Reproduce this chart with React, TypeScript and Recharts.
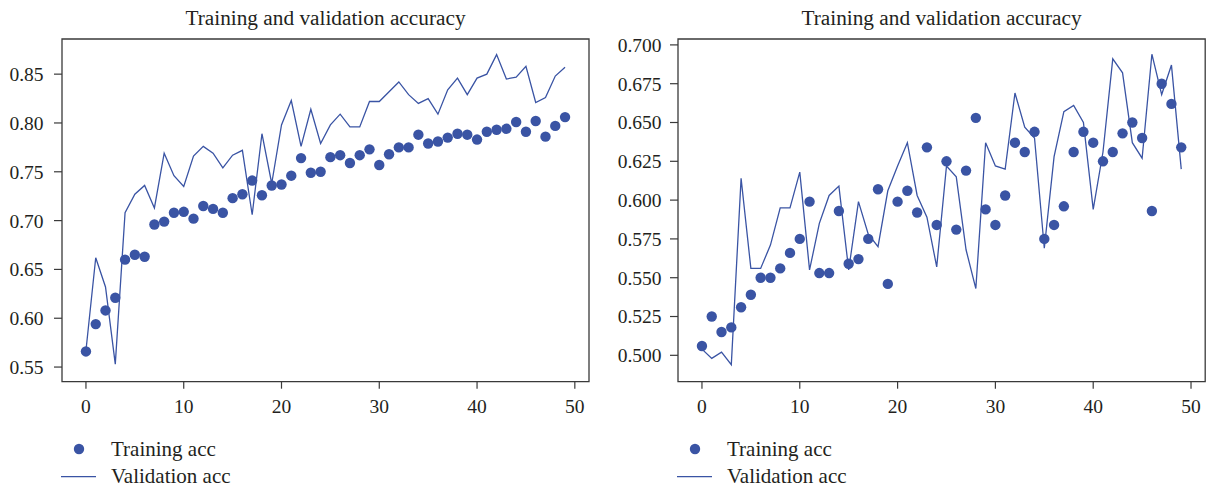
import React from "react";
import {
  ComposedChart,
  Line,
  Scatter,
  XAxis,
  YAxis,
  ReferenceArea,
  Legend,
} from "recharts";

// Epoch indices shared by both panels
const epochs: number[] = Array.from({ length: 50 }, (_, i) => i);

// Left panel: accuracy per epoch
const leftTrainAcc: number[] = [
  0.566, 0.594, 0.608, 0.621, 0.660, 0.665, 0.663, 0.696, 0.699, 0.708,
  0.709, 0.702, 0.715, 0.712, 0.708, 0.723, 0.727, 0.741, 0.726, 0.736,
  0.737, 0.746, 0.764, 0.749, 0.750, 0.765, 0.767, 0.759, 0.767, 0.773,
  0.757, 0.768, 0.775, 0.775, 0.788, 0.779, 0.781, 0.785, 0.789, 0.788,
  0.783, 0.791, 0.793, 0.794, 0.801, 0.791, 0.802, 0.786, 0.797, 0.806,
];
const leftValAcc: number[] = [
  0.567, 0.662, 0.632, 0.553, 0.708, 0.727, 0.736, 0.713, 0.769, 0.746,
  0.735, 0.766, 0.776, 0.769, 0.754, 0.767, 0.772, 0.706, 0.789, 0.738,
  0.798, 0.823, 0.776, 0.814, 0.779, 0.798, 0.809, 0.796, 0.796, 0.822,
  0.822, 0.832, 0.842, 0.829, 0.820, 0.825, 0.809, 0.834, 0.846, 0.829,
  0.846, 0.850, 0.870, 0.845, 0.847, 0.858, 0.821, 0.826, 0.848, 0.857,
];

// Right panel: accuracy per epoch
const rightTrainAcc: number[] = [
  0.506, 0.525, 0.515, 0.518, 0.531, 0.539, 0.550, 0.550, 0.556, 0.566,
  0.575, 0.599, 0.553, 0.553, 0.593, 0.559, 0.562, 0.575, 0.607, 0.546,
  0.599, 0.606, 0.592, 0.634, 0.584, 0.625, 0.581, 0.619, 0.653, 0.594,
  0.584, 0.603, 0.637, 0.631, 0.644, 0.575, 0.584, 0.596, 0.631, 0.644,
  0.637, 0.625, 0.631, 0.643, 0.650, 0.640, 0.593, 0.675, 0.662, 0.634,
];
const rightValAcc: number[] = [
  0.504, 0.498, 0.502, 0.494, 0.614, 0.556, 0.556, 0.571, 0.595, 0.595,
  0.618, 0.555, 0.585, 0.603, 0.609, 0.555, 0.599, 0.578, 0.570, 0.606,
  0.622, 0.637, 0.603, 0.589, 0.557, 0.622, 0.615, 0.568, 0.543, 0.637,
  0.622, 0.620, 0.669, 0.647, 0.640, 0.569, 0.628, 0.657, 0.661, 0.650,
  0.594, 0.631, 0.691, 0.682, 0.637, 0.627, 0.694, 0.668, 0.687, 0.620,
];

// Axis ticks
const xTicks: number[] = [0, 10, 20, 30, 40, 50];
const leftYTicks: number[] = [0.55, 0.6, 0.65, 0.7, 0.75, 0.8, 0.85];
const rightYTicks: number[] = [0.5, 0.525, 0.55, 0.575, 0.6, 0.625, 0.65, 0.675, 0.7];

const titleText = "Training and validation accuracy";
const trainLabel = "Training acc";
const valLabel = "Validation acc";

const BLUE = "#3a54a4";
const INK = "#231f20";
const FRAME = "#3a3a3a";
const FONT = "'Liberation Serif', 'Times New Roman', serif";

const X_DOMAIN: [number, number] = [-2.45, 51.45];

type Row = { epoch: number; train: number; val: number };

const buildRows = (train: number[], val: number[]): Row[] =>
  epochs.map((e, i) => ({ epoch: e, train: train[i], val: val[i] }));

const leftRows = buildRows(leftTrainAcc, leftValAcc);
const rightRows = buildRows(rightTrainAcc, rightValAcc);

const Dot = (props: any) => {
  const { cx, cy } = props;
  if (cx == null || cy == null) return null;
  return <circle cx={cx} cy={cy} r={5.2} fill={BLUE} />;
};

const LegendBox = () => (
  <svg width={200} height={60} style={{ display: "block", overflow: "visible" }}>
    <circle cx={29} cy={19} r={5.2} fill={BLUE} />
    <line x1={11} x2={46} y1={46.7} y2={46.7} stroke={BLUE} strokeWidth={1.3} />
    <text x={61} y={25.5} fontFamily={FONT} fontSize={21} fill={INK}>
      {trainLabel}
    </text>
    <text x={61} y={52.5} fontFamily={FONT} fontSize={21} fill={INK}>
      {valLabel}
    </text>
  </svg>
);

type PanelProps = {
  rows: Row[];
  left: number;
  width: number;
  yAxisWidth: number;
  marginRight: number;
  yDomain: [number, number];
  yTicks: number[];
  decimals: number;
  yTickMargin: number;
  legendLeft: number;
};

const Panel = ({
  rows,
  left,
  width,
  yAxisWidth,
  marginRight,
  yDomain,
  yTicks,
  decimals,
  yTickMargin,
  legendLeft,
}: PanelProps) => {
  const tickStyle = { fontFamily: FONT, fontSize: 19.5, fill: INK };
  return (
    <div style={{ position: "absolute", left, top: 0, width, height: 488 }}>
      <ComposedChart
        width={width}
        height={488}
        data={rows}
        margin={{ top: 39, right: marginRight, bottom: 66.3, left: 0 }}
      >
        <XAxis
          dataKey="epoch"
          type="number"
          domain={X_DOMAIN}
          allowDataOverflow
          ticks={xTicks}
          interval={0}
          height={40}
          axisLine={false}
          tickLine={{ stroke: FRAME, strokeWidth: 1.2 }}
          tickSize={7}
          tickMargin={10.8}
          tick={tickStyle}
        />
        <YAxis
          type="number"
          domain={yDomain}
          allowDataOverflow
          ticks={yTicks}
          interval={0}
          width={yAxisWidth}
          axisLine={false}
          tickLine={{ stroke: FRAME, strokeWidth: 1.2 }}
          tickSize={8}
          tickMargin={yTickMargin}
          tick={tickStyle}
          tickFormatter={(v: number) => v.toFixed(decimals)}
        />
        <ReferenceArea
          x1={X_DOMAIN[0]}
          x2={X_DOMAIN[1]}
          y1={yDomain[0]}
          y2={yDomain[1]}
          fill="none"
          stroke={FRAME}
          strokeWidth={1.3}
          ifOverflow="visible"
        />
        <Line
          dataKey="val"
          type="linear"
          stroke={BLUE}
          strokeWidth={1.3}
          dot={false}
          activeDot={false}
          isAnimationActive={false}
        />
        <Scatter dataKey="train" fill={BLUE} shape={Dot} isAnimationActive={false} />
        <Legend
          layout="vertical"
          align="center"
          verticalAlign="middle"
          content={() => <LegendBox />}
          wrapperStyle={{ position: "absolute", left: legendLeft, top: 430, width: 200, height: 60 }}
        />
      </ComposedChart>
    </div>
  );
};

export default function App() {
  return (
    <div
      style={{
        position: "absolute",
        left: 0,
        top: 0,
        width: 1208,
        height: 488,
        background: "#ffffff",
        overflow: "hidden",
      }}
    >
      <Panel
        rows={leftRows}
        left={0}
        width={600}
        yAxisWidth={62}
        marginRight={11}
        yDomain={[0.535, 0.886]}
        yTicks={leftYTicks}
        decimals={2}
        yTickMargin={10.5}
        legendLeft={50}
      />
      <Panel
        rows={rightRows}
        left={610}
        width={598}
        yAxisWidth={68}
        marginRight={2.8}
        yDomain={[0.483, 0.7038]}
        yTicks={rightYTicks}
        decimals={3}
        yTickMargin={8.5}
        legendLeft={56}
      />
      <svg
        width={1208}
        height={40}
        style={{ position: "absolute", left: 0, top: 0, pointerEvents: "none" }}
      >
        <text x={325.5} y={25} textAnchor="middle" fontFamily={FONT} fontSize={21.3} fill={INK}>
          {titleText}
        </text>
        <text x={941.5} y={25} textAnchor="middle" fontFamily={FONT} fontSize={21.3} fill={INK}>
          {titleText}
        </text>
      </svg>
    </div>
  );
}
